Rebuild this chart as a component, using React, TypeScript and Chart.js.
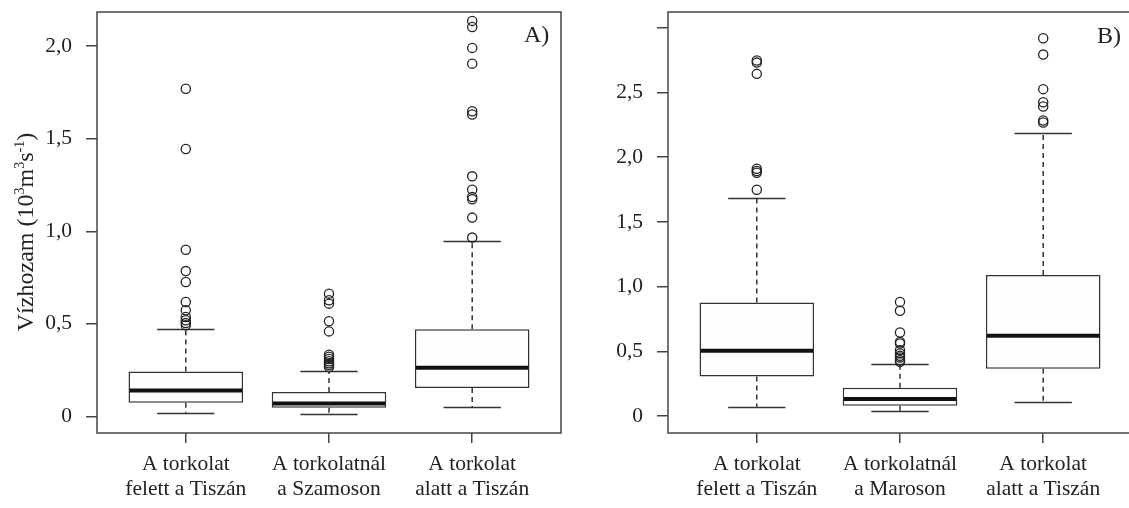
import React, { useEffect, useRef } from 'react';
import { Chart, registerables } from 'chart.js';

Chart.register(...registerables);

// ---------- Data ----------
const categoriesA = [
  ['A torkolat', 'felett a Tiszán'],
  ['A torkolatnál', 'a Szamoson'],
  ['A torkolat', 'alatt a Tiszán'],
];
const categoriesB = [
  ['A torkolat', 'felett a Tiszán'],
  ['A torkolatnál', 'a Maroson'],
  ['A torkolat', 'alatt a Tiszán'],
];

// Panel A (Tisza / Szamos)
const lowerWhiskerA = [0.02, 0.015, 0.05];
const q1A = [0.074, 0.047, 0.153];
const medianA = [0.14, 0.069, 0.263];
const q3A = [0.243, 0.131, 0.47];
const upperWhiskerA = [0.47, 0.243, 0.948];
const outliersA1 = [1.77, 1.445, 0.9, 0.785, 0.726, 0.618, 0.573, 0.537, 0.519, 0.504, 0.492];
const outliersA2 = [0.663, 0.627, 0.609, 0.514, 0.459, 0.333, 0.322, 0.31, 0.298, 0.287, 0.277, 0.267];
const outliersA3 = [2.137, 2.104, 1.991, 1.906, 1.649, 1.631, 1.297, 1.225, 1.185, 1.173, 1.074, 0.966];

// Panel B (Tisza / Maros)
const lowerWhiskerB = [0.072, 0.041, 0.108];
const q1B = [0.306, 0.08, 0.365];
const medianB = [0.504, 0.131, 0.62];
const q3B = [0.877, 0.218, 1.09];
const upperWhiskerB = [1.684, 0.406, 2.186];
const outliersB1 = [2.747, 2.731, 2.644, 1.911, 1.893, 1.88, 1.749];
const outliersB2 = [0.882, 0.813, 0.646, 0.573, 0.56, 0.509, 0.484, 0.465, 0.453, 0.432, 0.42];
const outliersB3 = [2.919, 2.793, 2.526, 2.425, 2.392, 2.284, 2.268];

const xTickValues = [1, 2, 3];
const yTickValuesA = [0, 0.5, 1, 1.5, 2];
const yTickLabelsA = ['0', '0,5', '1,0', '1,5', '2,0'];
const yTickValuesB = [0, 0.5, 1, 1.5, 2, 2.5, 3];
const yTickLabelsB = ['0', '0,5', '1,0', '1,5', '2,0', '2,5', ''];

const FONT = "'Liberation Serif', 'Times New Roman', serif";
const INK = '#333';

type Panel = {
  cats: string[][];
  lw: number[]; q1: number[]; med: number[]; q3: number[]; uw: number[];
  outs: number[][];
  yMin: number; yMax: number;
  yTicks: number[]; yLabels: string[];
  yAxisWidth: number;
  tag: string; tagX: number; tagY: number;
  showTitle: boolean;
};

const panelA: Panel = {
  cats: categoriesA, lw: lowerWhiskerA, q1: q1A, med: medianA, q3: q3A, uw: upperWhiskerA,
  outs: [outliersA1, outliersA2, outliersA3],
  yMin: -0.09, yMax: 2.185, yTicks: yTickValuesA, yLabels: yTickLabelsA,
  yAxisWidth: 97, tag: 'A)', tagX: 524, tagY: 42, showTitle: true,
};
const panelB: Panel = {
  cats: categoriesB, lw: lowerWhiskerB, q1: q1B, med: medianB, q3: q3B, uw: upperWhiskerB,
  outs: [outliersB1, outliersB2, outliersB3],
  yMin: -0.131, yMax: 3.122, yTicks: yTickValuesB, yLabels: yTickLabelsB,
  yAxisWidth: 100, tag: 'B)', tagX: 529, tagY: 43, showTitle: false,
};

function drawTitle(ctx: CanvasRenderingContext2D, cx: number, cy: number) {
  const parts = [
    { t: 'Vízhozam (10', s: false },
    { t: '3', s: true },
    { t: 'm', s: false },
    { t: '3', s: true },
    { t: 's', s: false },
    { t: '-1', s: true },
    { t: ')', s: false },
  ];
  const nf = `24px ${FONT}`;
  const sf = `14px ${FONT}`;
  let total = 0;
  const widths = parts.map((p) => {
    ctx.font = p.s ? sf : nf;
    const w = ctx.measureText(p.t).width;
    total += w;
    return w;
  });
  ctx.save();
  ctx.translate(cx, cy);
  ctx.rotate(-Math.PI / 2);
  ctx.fillStyle = '#222';
  ctx.textBaseline = 'alphabetic';
  ctx.textAlign = 'left';
  let x = -total / 2;
  parts.forEach((p, i) => {
    ctx.font = p.s ? sf : nf;
    ctx.fillText(p.t, x, p.s ? -9 : 0);
    x += widths[i];
  });
  ctx.restore();
}

function zeroPad(s: any) {
  s.paddingTop = 0;
  s.paddingBottom = 0;
  s.paddingLeft = 0;
  s.paddingRight = 0;
}

function makeConfig(p: Panel): any {
  const boxPlugin = {
    id: 'boxparts',
    beforeDatasetsDraw(chart: any) {
      const { ctx } = chart;
      const xs = chart.scales.x;
      const ys = chart.scales.y;
      const meta = chart.getDatasetMeta(1);
      ctx.save();
      ctx.strokeStyle = INK;
      ctx.lineWidth = 1.5;
      p.q1.forEach((_, i) => {
        const cx = xs.getPixelForValue(xTickValues[i]);
        const bw = meta.data[i] ? meta.data[i].width : 100;
        const half = bw / 4;
        // whiskers (dashed)
        ctx.setLineDash([5, 4]);
        ctx.beginPath();
        ctx.moveTo(cx, ys.getPixelForValue(p.q3[i]));
        ctx.lineTo(cx, ys.getPixelForValue(p.uw[i]));
        ctx.moveTo(cx, ys.getPixelForValue(p.q1[i]));
        ctx.lineTo(cx, ys.getPixelForValue(p.lw[i]));
        ctx.stroke();
        // caps
        ctx.setLineDash([]);
        ctx.beginPath();
        const yu = Math.round(ys.getPixelForValue(p.uw[i])) + 0.5;
        const yl = Math.round(ys.getPixelForValue(p.lw[i])) + 0.5;
        ctx.moveTo(cx - half, yu);
        ctx.lineTo(cx + half, yu);
        ctx.moveTo(cx - half, yl);
        ctx.lineTo(cx + half, yl);
        ctx.stroke();
      });
      ctx.restore();
    },
    afterDatasetDraw(chart: any, args: any) {
      if (args.index !== 1) return;
      const { ctx } = chart;
      const ys = chart.scales.y;
      const meta = chart.getDatasetMeta(1);
      ctx.save();
      ctx.strokeStyle = '#111';
      ctx.lineWidth = 4;
      p.med.forEach((m, i) => {
        const el = meta.data[i];
        if (!el) return;
        const y = ys.getPixelForValue(m);
        ctx.beginPath();
        ctx.moveTo(el.x - el.width / 2 + 1, y);
        ctx.lineTo(el.x + el.width / 2 - 1, y);
        ctx.stroke();
      });
      ctx.restore();
    },
    afterDraw(chart: any) {
      const { ctx, chartArea: a } = chart;
      ctx.save();
      ctx.strokeStyle = '#444';
      ctx.lineWidth = 1.5;
      ctx.strokeRect(a.left, a.top, a.right - a.left, a.bottom - a.top);
      ctx.fillStyle = '#222';
      ctx.font = `24px ${FONT}`;
      ctx.textAlign = 'left';
      ctx.textBaseline = 'alphabetic';
      ctx.fillText(p.tag, p.tagX, p.tagY);
      if (p.showTitle) drawTitle(ctx, 33, 232);
      ctx.restore();
    },
  };

  const outlierData: { x: number; y: number }[] = [];
  p.outs.forEach((arr, i) => arr.forEach((v) => outlierData.push({ x: xTickValues[i], y: v })));

  const tickFont = { family: FONT, size: 21.5, lineHeight: 25 / 21.5 };

  return {
    type: 'bar',
    data: {
      datasets: [
        {
          type: 'scatter',
          data: outlierData,
          showLine: false,
          pointRadius: 4.6,
          pointBorderWidth: 1.3,
          pointBorderColor: '#222',
          pointBackgroundColor: 'rgba(0,0,0,0)',
          order: 1,
        },
        {
          type: 'bar',
          data: p.q1.map((q, i) => ({ x: xTickValues[i], y: [q, p.q3[i]] })),
          backgroundColor: '#fefdfb',
          borderColor: INK,
          borderWidth: 1.5,
          borderSkipped: false,
          barPercentage: 0.8,
          categoryPercentage: 1,
          order: 2,
        },
      ],
    },
    options: {
      responsive: false,
      maintainAspectRatio: false,
      animation: false,
      events: [],
      layout: { padding: { left: 0, right: 4, top: 12, bottom: 0 }, autoPadding: false },
      plugins: { legend: { display: false }, tooltip: { enabled: false }, title: { display: false } },
      scales: {
        x: {
          type: 'linear',
          min: 0.38,
          max: 3.62,
          offset: false,
          border: { display: false },
          grid: { offset: false, drawOnChartArea: false, drawTicks: true, tickLength: 10, color: '#444', lineWidth: 1.5 },
          afterBuildTicks: (s: any) => { s.ticks = xTickValues.map((v) => ({ value: v })); },
          afterFit: (s: any) => { s.height = 75; zeroPad(s); },
          ticks: {
            font: tickFont,
            color: '#222',
            padding: 9,
            maxRotation: 0,
            autoSkip: false,
            callback: (_v: any, i: number) => p.cats[i],
          },
        },
        y: {
          type: 'linear',
          min: p.yMin,
          max: p.yMax,
          border: { display: false },
          grid: { drawOnChartArea: false, drawTicks: true, tickLength: 11, color: '#444', lineWidth: 1.5 },
          afterBuildTicks: (s: any) => { s.ticks = p.yTicks.map((v) => ({ value: v })); },
          afterFit: (s: any) => { s.width = p.yAxisWidth; zeroPad(s); },
          ticks: {
            font: tickFont,
            color: '#222',
            padding: 14,
            autoSkip: false,
            callback: (_v: any, i: number) => p.yLabels[i],
          },
        },
      },
    },
    plugins: [boxPlugin],
  };
}

function BoxPanel({ panel, left, width }: { panel: Panel; left: number; width: number }) {
  const ref = useRef<HTMLCanvasElement | null>(null);
  useEffect(() => {
    if (!ref.current) return;
    const chart = new Chart(ref.current, makeConfig(panel));
    return () => chart.destroy();
  }, [panel]);
  return (
    <canvas
      ref={ref}
      width={width}
      height={508}
      style={{ position: 'absolute', left, top: 0, width, height: 508, display: 'block' }}
    />
  );
}

export default function App() {
  return (
    <div
      style={{
        position: 'absolute',
        left: 0,
        top: 0,
        width: 1129,
        height: 508,
        overflow: 'hidden',
        background: '#fff',
      }}
    >
      <BoxPanel panel={panelA} left={0} width={565} />
      <BoxPanel panel={panelB} left={568} width={568} />
    </div>
  );
}
